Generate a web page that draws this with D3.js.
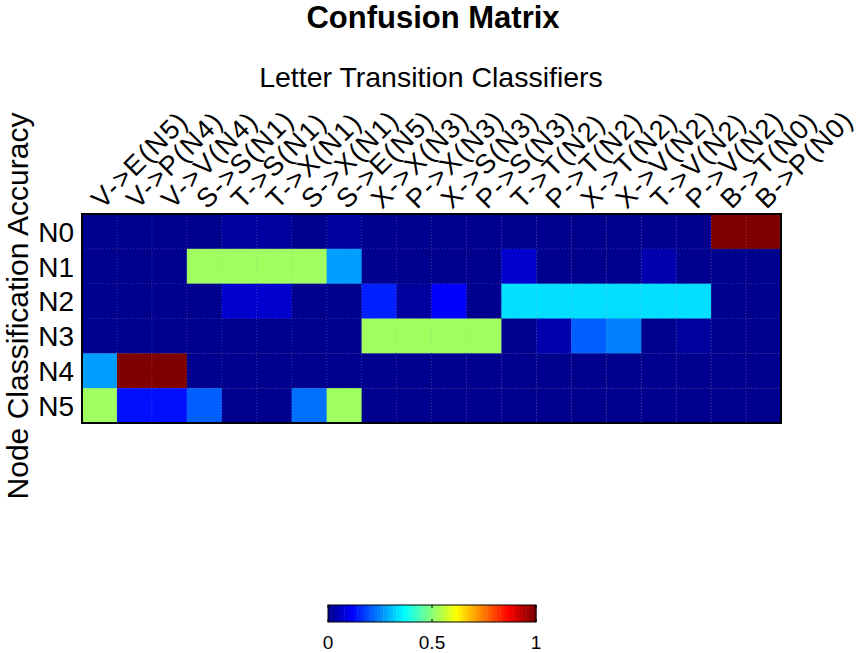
<!DOCTYPE html>
<html>
<head>
<meta charset="utf-8">
<script src="https://cdn.jsdelivr.net/npm/d3@7"></script>
<style>
  body { margin: 0; background: #fff; }
  svg { display: block; font-family: "Liberation Sans", Arial, sans-serif; }
</style>
</head>
<body>
<svg id="chart" width="866" height="653"></svg>
<script>
// rows = predicted node, cols = letter transition classifiers
const rowLabels = ['N0', 'N1', 'N2', 'N3', 'N4', 'N5'];
const colLabels = ['V->E(N5)', 'V->P(N4)', 'V->V(N4)', 'S->S(N1)', 'T->S(N1)', 'T->X(N1)', 'S->X(N1)',
  'S->E(N5)', 'X->X(N3)', 'P->X(N3)', 'X->S(N3)', 'P->S(N3)', 'T->T(N2)', 'P->T(N2)', 'X->T(N2)',
  'X->V(N2)', 'T->V(N2)', 'P->V(N2)', 'B->T(N0)', 'B->P(N0)'];

const rowN0 = [0, 0, 0, 0.01, 0.02, 0.02, 0.01, 0.02, 0, 0, 0, 0, 0, 0, 0, 0, 0, 0, 1, 1];
const rowN1 = [0, 0, 0, 0.52, 0.52, 0.52, 0.52, 0.27, 0, 0, 0, 0, 0.07, 0, 0, 0, 0.035, 0, 0, 0];
const rowN2 = [0, 0, 0, 0.01, 0.07, 0.07, 0, 0, 0.145, 0.02, 0.12, 0.01, 0.335, 0.335, 0.335, 0.335, 0.335, 0.335, 0, 0];
const rowN3 = [0, 0, 0, 0, 0, 0, 0, 0, 0.52, 0.52, 0.52, 0.52, 0, 0.035, 0.21, 0.24, 0.01, 0.02, 0, 0];
const rowN4 = [0.27, 1, 1, 0, 0, 0, 0, 0, 0, 0, 0, 0, 0, 0, 0, 0, 0, 0, 0, 0];
const rowN5 = [0.52, 0.13, 0.13, 0.21, 0, 0, 0.225, 0.53, 0, 0, 0, 0, 0, 0, 0, 0, 0, 0, 0, 0];
const matrix = [rowN0, rowN1, rowN2, rowN3, rowN4, rowN5];

const colorTicks = [0, 0.5, 1];

// matlab jet(64)
function jet(v) {
  const k = Math.min(64, Math.floor(v * 64) + 1);
  const u = j => Math.max(0, Math.min(j / 16, 1, (48 - j) / 16));
  const c = x => Math.round(x * 255);
  return `rgb(${c(u(k - 24))},${c(u(k - 8))},${c(u(k + 8))})`;
}

const svg = d3.select('#chart');
const plotL = 82, plotR = 781, plotT = 214, plotB = 423;

const x = d3.scaleBand().domain(d3.range(colLabels.length)).range([plotL, plotR]);
const y = d3.scaleBand().domain(d3.range(rowLabels.length)).range([plotT, plotB]);

const cells = [];
matrix.forEach((row, i) => row.forEach((v, j) => cells.push({ i, j, v })));

svg.append('g').selectAll('rect')
  .data(cells)
  .enter().append('rect')
  .attr('x', d => x(d.j))
  .attr('y', d => y(d.i))
  .attr('width', x.bandwidth() + 0.5)
  .attr('height', y.bandwidth() + 0.5)
  .attr('fill', d => jet(d.v));

// faint dotted grid
const grid = svg.append('g')
  .attr('stroke', '#9a9ab0')
  .attr('stroke-opacity', 0.35)
  .attr('stroke-dasharray', '1,2');
d3.range(1, colLabels.length).forEach(j => {
  grid.append('line').attr('x1', x(j)).attr('x2', x(j)).attr('y1', plotT).attr('y2', plotB);
});
d3.range(1, rowLabels.length).forEach(i => {
  grid.append('line').attr('x1', plotL).attr('x2', plotR).attr('y1', y(i)).attr('y2', y(i));
});

svg.append('rect')
  .attr('x', plotL).attr('y', plotT)
  .attr('width', plotR - plotL).attr('height', plotB - plotT)
  .attr('fill', 'none').attr('stroke', '#000').attr('stroke-width', 2);

// row labels
svg.append('g').selectAll('text')
  .data(rowLabels)
  .enter().append('text')
  .attr('x', 74)
  .attr('y', (d, i) => y(i) + y.bandwidth() / 2)
  .attr('dy', '0.37em')
  .attr('text-anchor', 'end')
  .attr('font-size', 28)
  .text(d => d);

// rotated column labels
svg.append('g').selectAll('text')
  .data(colLabels)
  .enter().append('text')
  .attr('transform', (d, j) => `translate(${x(j) + x.bandwidth() / 2 + 3},${plotT - 4}) rotate(-45)`)
  .attr('font-size', 27)
  .attr('letter-spacing', 1.5)
  .text(d => d);

// titles
svg.append('text')
  .attr('x', 433).attr('y', 28)
  .attr('text-anchor', 'middle')
  .attr('font-size', 31).attr('font-weight', 'bold')
  .text('Confusion Matrix');

svg.append('text')
  .attr('x', 431).attr('y', 87)
  .attr('text-anchor', 'middle')
  .attr('font-size', 28.5)
  .text('Letter Transition Classifiers');

svg.append('text')
  .attr('transform', 'translate(27.5,306) rotate(-90)')
  .attr('text-anchor', 'middle')
  .attr('font-size', 30)
  .text('Node Classification Accuracy');

// colorbar
const cbLeft = 328, cbRight = 536, cbTop = 605, cbBottom = 622;
const cx = d3.scaleLinear().domain([0, 1]).range([cbLeft, cbRight]);
const steps = d3.range(64).map(k => k / 64);
svg.append('g').selectAll('rect')
  .data(steps)
  .enter().append('rect')
  .attr('x', d => cx(d))
  .attr('y', cbTop)
  .attr('width', (cbRight - cbLeft) / 64 + 0.5)
  .attr('height', cbBottom - cbTop)
  .attr('fill', d => jet(d + 0.5 / 64));

svg.append('rect')
  .attr('x', cbLeft).attr('y', cbTop)
  .attr('width', cbRight - cbLeft).attr('height', cbBottom - cbTop)
  .attr('fill', 'none').attr('stroke', '#000').attr('stroke-width', 1);

const cbTicks = svg.append('g');
colorTicks.forEach(t => {
  cbTicks.append('line').attr('x1', cx(t)).attr('x2', cx(t)).attr('y1', cbTop).attr('y2', cbTop + 3).attr('stroke', '#000');
  cbTicks.append('line').attr('x1', cx(t)).attr('x2', cx(t)).attr('y1', cbBottom - 3).attr('y2', cbBottom).attr('stroke', '#000');
  cbTicks.append('text')
    .attr('x', cx(t)).attr('y', 648.5)
    .attr('text-anchor', 'middle')
    .attr('font-size', 19)
    .text(t);
});
</script>
</body>
</html>
